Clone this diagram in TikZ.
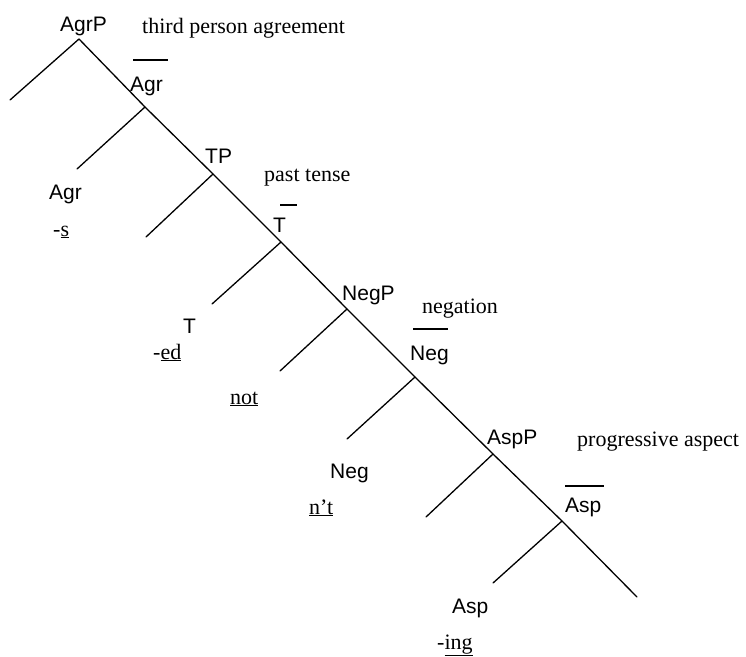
\documentclass[tikz,border=0pt]{standalone}
\usepackage{fontspec}
\setmainfont{Liberation Serif}
\newfontfamily\arialf{Liberation Sans}
\begin{document}
\begin{tikzpicture}[x=1pt,y=-1pt,
  cat/.style={inner sep=0pt,anchor=base west,font=\arialf\fontsize{21}{25}\selectfont},
  note/.style={inner sep=0pt,anchor=base west,font=\fontsize{22}{26}\selectfont},
  edge/.style={line width=1.3pt,line cap=round},
  bar/.style={line width=1.2pt}]
\useasboundingbox (0,0) rectangle (746,656);
% spine points
\coordinate (p0) at (79,39);
\coordinate (p1) at (145,107);
\coordinate (p2) at (213,174);
\coordinate (p3) at (281,242);
\coordinate (p4) at (347,309);
\coordinate (p5) at (415,377);
\coordinate (p6) at (493,454);
\coordinate (p7) at (562,521);
\coordinate (pend) at (637,597);
% left branch ends
\coordinate (l0) at (10,100);
\coordinate (l1) at (77,169);
\coordinate (l2) at (146,237);
\coordinate (l3) at (212,304);
\coordinate (l4) at (280,371);
\coordinate (l5) at (347,439);
\coordinate (l6) at (426,517);
\coordinate (l7) at (493,583);
\draw[edge] (p0) -- (p1) -- (p2) -- (p3) -- (p4) -- (p5) -- (p6) -- (p7) -- (pend);
\foreach \i in {0,...,7}{\draw[edge] (p\i) -- (l\i);}
% category labels
\node[cat] (agrp) at (60,31) {AgrP};
\node[cat] (agrbar) at (130,91) {Agr};
\node[cat] (tp) at (205,163) {TP};
\node[cat] (tbar) at (273,232) {T};
\node[cat] (agr) at (49,199) {Agr};
\node[cat] (t) at (183,333) {T};
\node[cat] (negp) at (342,300) {NegP};
\node[cat] (negbar) at (410,360) {Neg};
\node[cat] (neg) at (330,478) {Neg};
\node[cat] (aspp) at (487,444) {AspP};
\node[cat] (aspbar) at (565,512) {Asp};
\node[cat] (asp) at (452,613) {Asp};
% bars
\draw[bar] (133,60) -- (168,60);
\draw[bar] (280,205) -- (297,205);
\draw[bar] (413,329) -- (448,329);
\draw[bar] (565,486) -- (604,486);
% notes
\node[note] (n1) at (142,33) {third person agreement};
\node[note] (n2) at (264,181) {past tense};
\node[note] (n3) at (422,313) {negation};
\node[note] (n4) at (577,446) {progressive aspect};
\node[note] (m1) at (53,236) {-\underline{s}};
\node[note] (m2) at (153,359) {-\underline{ed}};
\node[note] (m3) at (230,404) {\underline{not}};
\node[note] (m4) at (309,514) {\underline{n’t}};
\node[note] (m5) at (437,649) {-\underline{ing}};
\end{tikzpicture}
\end{document}
